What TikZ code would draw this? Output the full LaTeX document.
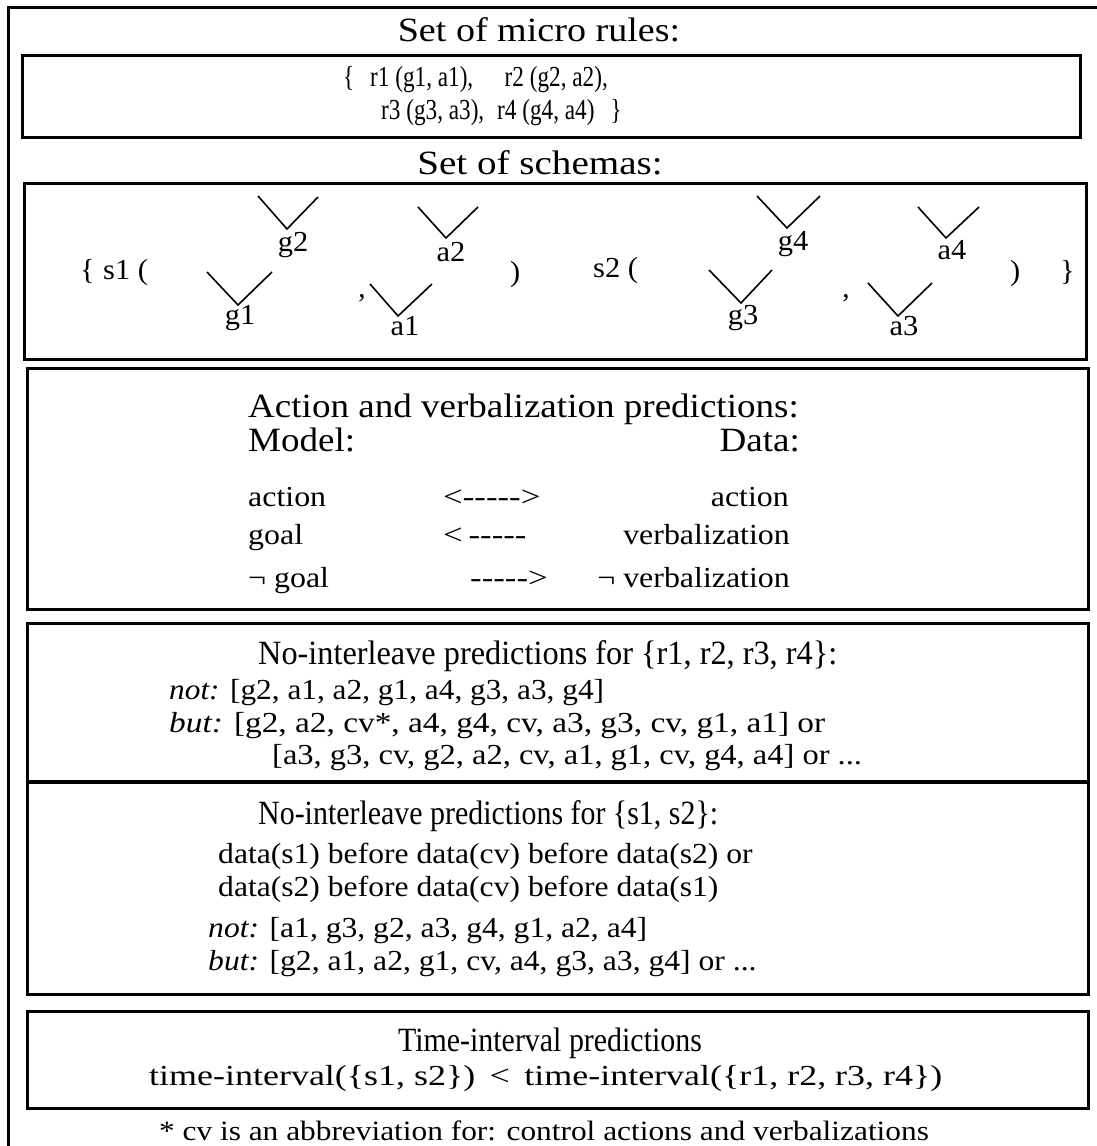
\documentclass[tikz,border=0pt]{standalone}
\usepackage{graphicx}
\usepackage{fontspec}
\setmainfont{Liberation Serif}
% horizontally scaled text run
\newcommand{\sx}[2]{\scalebox{#1}[1]{#2}}
\newcommand{\dashrun}{-{}-{}-{}-{}-}
\begin{document}
\begin{tikzpicture}[x=1pt,y=-1pt,
  panel/.style={draw, line width=3pt, inner sep=0pt, outer sep=0pt, anchor=north west},
  txt/.style={inner sep=0pt, font=\fontsize{#1}{#1}\selectfont},
  headtext/.style={txt=34},
  bodytext/.style={txt=29},
  vee/.style={line width=1.6pt},
]
\useasboundingbox (0,0) rectangle (1096,1146);
% outer frame
\draw[line width=3pt] (8,1150) -- (8,7) -- (1100,7);

% micro rules
\node[headtext] (microtitle) at (539,30) {\sx{1.12}{Set of micro rules:}};
\node[panel, minimum width=1058pt, minimum height=82pt] (rulesbox) at (22,55) {};
\node[bodytext, anchor=mid west] (rbopen) at (343,84) {\sx{0.8}{\{}};
\node[bodytext, anchor=mid west] (rone) at (370,84) {\sx{0.8}{r1 (g1, a1),}};
\node[bodytext, anchor=mid east] (rtwo) at (608,84) {\sx{0.8}{r2 (g2, a2),}};
\node[bodytext, anchor=mid west] (rthree) at (381,117) {\sx{0.8}{r3 (g3, a3),}};
\node[bodytext, anchor=mid west] (rfour) at (497,117) {\sx{0.8}{r4 (g4, a4)}};
\node[bodytext, anchor=mid east] (rbclose) at (622,117) {\sx{0.8}{\}}};

% schemas
\node[headtext] (schematitle) at (540,163) {\sx{1.15}{Set of schemas:}};
\node[panel, minimum width=1062pt, minimum height=176pt] (schemabox) at (24,183) {};
\node[bodytext, anchor=mid west] (sbopen) at (80,277) {\sx{1.05}{\{}};
\node[bodytext, anchor=mid west] (sone) at (103,277) {\sx{1.05}{s1 (}};
\node[bodytext, anchor=mid west] (sonec) at (510,279) {\sx{1.05}{)}};
\node[bodytext, anchor=mid west] (stwo) at (593,275) {\sx{1.05}{s2 (}};
\node[bodytext, anchor=mid west] (stwoc) at (1010,278) {\sx{1.05}{)}};
\node[bodytext, anchor=mid west] (sbclose) at (1060,278) {\sx{1.05}{\}}};
\node[bodytext] (commaA) at (362,298) {,};
\node[bodytext] (commaB) at (846,298) {,};
% first schema: two goal/action pairs
\draw[vee] (258,196) -- (287,229) -- (318,197);
\node[bodytext] (lgtwo) at (293,245) {\sx{1.05}{g2}};
\draw[vee] (418,207) -- (446,238) -- (478,207);
\node[bodytext] (latwo) at (451,252) {\sx{1.05}{a2}};
\draw[vee] (207,272) -- (238,305) -- (272,272);
\node[bodytext] (lgone) at (240,318) {\sx{1.05}{g1}};
\draw[vee] (370,284) -- (398,316) -- (432,284);
\node[bodytext] (laone) at (405,326) {\sx{1.05}{a1}};
% second schema
\draw[vee] (757,196) -- (787,228) -- (820,196);
\node[bodytext] (lgfour) at (793,244) {\sx{1.05}{g4}};
\draw[vee] (918,207) -- (946,238) -- (979,207);
\node[bodytext] (lafour) at (952,250) {\sx{1.05}{a4}};
\draw[vee] (709,270) -- (741,303) -- (772,270);
\node[bodytext] (lgthree) at (743,318) {\sx{1.05}{g3}};
\draw[vee] (868,283) -- (898,316) -- (932,283);
\node[bodytext] (lathree) at (904,326) {\sx{1.05}{a3}};

% action and verbalization
\node[panel, minimum width=1061pt, minimum height=241pt] (actbox) at (27,368) {};
\node[headtext, anchor=mid west] (acttitle) at (248,415) {\sx{1.09}{Action and verbalization predictions:}};
\node[headtext, anchor=mid west] (model) at (248,449) {\sx{1.09}{Model:}};
\node[headtext, anchor=mid east] (data) at (800,449) {\sx{1.09}{Data:}};
\node[bodytext, anchor=mid west] (mact) at (248,504) {\sx{1.1}{action}};
\node[bodytext, anchor=mid west] (arrA) at (443,504) {\sx{1.2}{<\dashrun>}};
\node[bodytext, anchor=mid east] (dact) at (789,504) {\sx{1.1}{action}};
\node[bodytext, anchor=mid west] (mgoal) at (248,542) {\sx{1.1}{goal}};
\node[bodytext, anchor=mid west] (arrB) at (443,542) {\sx{1.2}{<\,\dashrun}};
\node[bodytext, anchor=mid east] (dverb) at (790,542) {\sx{1.1}{verbalization}};
\node[bodytext, anchor=mid west] (mngoal) at (248,585) {\sx{1.1}{¬ goal}};
\node[bodytext, anchor=mid west] (arrC) at (470,585) {\sx{1.2}{\dashrun>}};
\node[bodytext, anchor=mid east] (dnverb) at (790,585) {\sx{1.1}{¬ verbalization}};

% no-interleave for rules
\node[panel, minimum width=1061pt, minimum height=158pt] (rulepredbox) at (27,623) {};
\node[headtext, anchor=mid west] (rulepredtitle) at (258,662) {\sx{0.95}{No-interleave predictions for \{r1, r2, r3, r4\}:}};
\node[bodytext, anchor=mid west] (rnot) at (169,697) {\sx{1.08}{\textit{not:} [g2, a1, a2, g1, a4, g3, a3, g4]}};
\node[bodytext, anchor=mid west] (rbut) at (169,730) {\sx{1.15}{\textit{but:} [g2, a2, cv*, a4, g4, cv, a3, g3, cv, g1, a1] or}};
\node[bodytext, anchor=mid west] (ror) at (272,762) {\sx{1.12}{[a3, g3, cv, g2, a2, cv, a1, g1, cv, g4, a4] or ...}};

% no-interleave for schemas
\node[panel, minimum width=1061pt, minimum height=212pt] (schpredbox) at (27,782) {};
\node[headtext, anchor=mid west] (schpredtitle) at (258,822) {\sx{0.88}{No-interleave predictions for \{s1, s2\}:}};
\node[bodytext, anchor=mid west] (dA) at (218,861) {\sx{1.09}{data(s1) before data(cv) before data(s2) or}};
\node[bodytext, anchor=mid west] (dB) at (218,894) {\sx{1.09}{data(s2) before data(cv) before data(s1)}};
\node[bodytext, anchor=mid west] (snot) at (208,935) {\sx{1.09}{\textit{not:} [a1, g3, g2, a3, g4, g1, a2, a4]}};
\node[bodytext, anchor=mid west] (sbut) at (208,968) {\sx{1.09}{\textit{but:} [g2, a1, a2, g1, cv, a4, g3, a3, g4] or ...}};

% time interval
\node[panel, minimum width=1061pt, minimum height=97pt] (timebox) at (27,1011) {};
\node[headtext] (timetitle) at (550,1043) {\sx{0.88}{Time-interval predictions}};
\node[bodytext, anchor=mid west] (timeline) at (149,1083) {\sx{1.24}{time-interval(\{s1, s2\})\hspace{0.4em}<\hspace{0.4em}time-interval(\{r1, r2, r3, r4\})}};

% footnote
\node[txt=28] (foot) at (544,1131) {\sx{1.12}{* cv is an abbreviation for: control actions and verbalizations}};
\end{tikzpicture}
\end{document}
